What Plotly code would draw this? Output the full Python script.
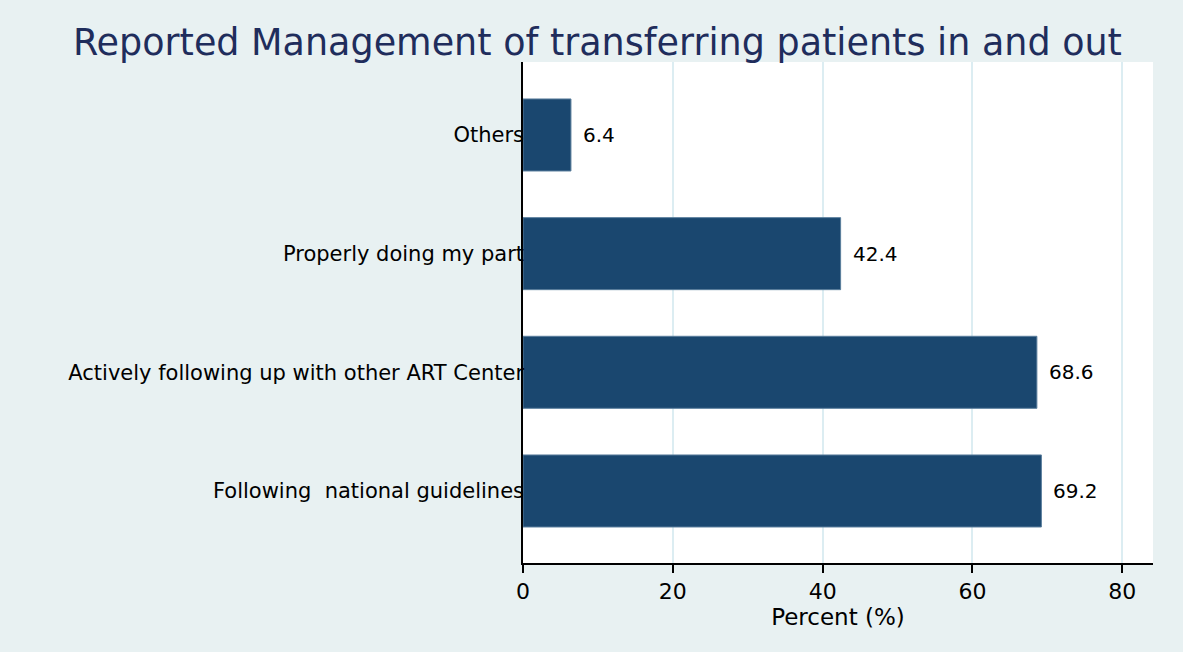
import plotly.graph_objects as go

categories = ["Following  national guidelines", "Actively following up with other ART Center",
              "Properly doing my part", "Others"]
values = [69.2, 68.6, 42.4, 6.4]
value_labels = ["69.2", "68.6", "42.4", "6.4"]
x_ticks = [0, 20, 40, 60, 80]

FONT = "DejaVu Sans"
BAR = "#1a476f"
BG = "#e8f1f2"

fig = go.Figure()
fig.add_trace(go.Bar(
    y=categories, x=values, orientation="h",
    marker=dict(color=BAR, line=dict(color="#5a7e9c", width=1)),
    width=0.607, hoverinfo="skip",
))

for c, v, t in zip(categories, values, value_labels):
    fig.add_annotation(x=v, y=c, text=t, showarrow=False, xanchor="left",
                       yanchor="middle", xshift=10,
                       font=dict(family=FONT, size=20, color="black"))

fig.update_layout(
    width=1183, height=652,
    margin=dict(l=523, r=30, t=62, b=89),
    paper_bgcolor=BG, plot_bgcolor="white",
    showlegend=False,
    title=dict(text="Reported Management of transferring patients in and out",
               x=0.505, xanchor="center", y=1 - 42 / 652, yanchor="middle",
               yref="container",
               font=dict(family=FONT, size=36.5, color="#1f2d5c")),
    xaxis=dict(range=[0, 84.1], tickvals=x_ticks, ticks="outside", ticklen=8,
               tickwidth=1.5, tickcolor="black", showline=True, linecolor="black",
               linewidth=1.5, showgrid=True, gridcolor="#dcedf2", gridwidth=1.5,
               zeroline=False,
               tickfont=dict(family=FONT, size=22, color="black"),
               title=dict(text="Percent (%)", standoff=0,
                          font=dict(family=FONT, size=23, color="black"))),
    yaxis=dict(categoryorder="array", categoryarray=categories,
               range=[-0.607, 3.615], showline=True, linecolor="black",
               linewidth=1.5, ticks="", showgrid=False, zeroline=False,
               ticklabelstandoff=-7,
               tickfont=dict(family=FONT, size=21, color="black")),
)

fig.write_html("out.html", config={"displayModeBar": False},
               post_script="document.body.style.margin='0';")
